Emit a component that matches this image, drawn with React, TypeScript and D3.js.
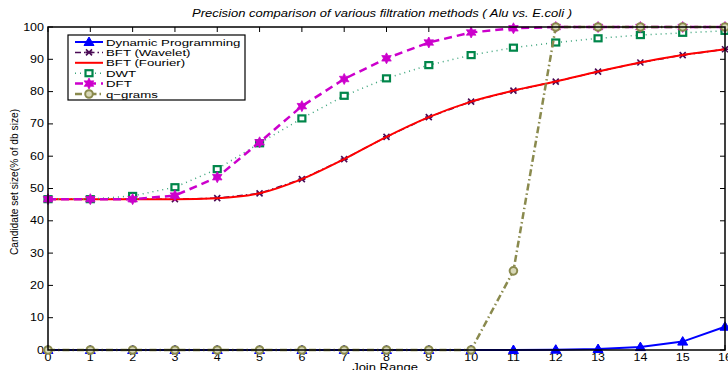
import * as d3 from 'd3'

const joinRange = d3.range(0, 17)
const dynamicProg = [0, 0, 0, 0, 0, 0, 0, 0, 0, 0, 0, 0, 0.1, 0.3, 0.9, 2.6, 7.2]
const bftWavelet = [46.7, 46.7, 46.7, 46.7, 47, 48.5, 52.9, 59.1, 66, 72.1, 76.9, 80.3, 83.1, 86.2, 89, 91.3, 93.1]
const bftFourier = [46.7, 46.7, 46.7, 46.7, 47, 48.5, 52.9, 59.1, 66, 72.1, 76.9, 80.3, 83.1, 86.2, 89, 91.3, 93.1]
const dwt = [46.7, 46.7, 47.7, 50.4, 56, 64, 71.7, 78.7, 84.1, 88.2, 91.3, 93.6, 95.2, 96.5, 97.5, 98.2, 98.8]
const dft = [46.7, 46.7, 46.7, 47.8, 53.5, 64.3, 75.5, 83.9, 90.3, 95.2, 98.3, 99.6, 100, 100, 100, 100, 100]
const qgrams = [0, 0, 0, 0, 0, 0, 0, 0, 0, 0, 0, 24.5, 100, 100, 100, 100, 100]
const yTicks = d3.range(0, 101, 10)

const W = 728
const H = 370
const left = 48
const right = 725
const top = 27
const bottom = 350
const SX = 1.25 // source image is stretched horizontally

const x = d3.scaleLinear().domain([0, 16]).range([left, right])
const y = d3.scaleLinear().domain([0, 100]).range([bottom, top])

type Marker = 'triangle' | 'asterisk' | 'none' | 'square' | 'hexagram' | 'circle'

interface Series {
  name: string
  values: number[]
  color: string
  lineColor: string
  width: number
  dash: string
  marker: Marker
  curve?: boolean
}

const series: Series[] = [
  { name: 'Dynamic Programming', values: dynamicProg, color: '#0000ff', lineColor: '#0000ff', width: 2, dash: '', marker: 'triangle' },
  { name: 'BFT (Wavelet)', values: bftWavelet, color: '#4a0a55', lineColor: '#4a0a55', width: 1.5, dash: '6,3,1.5,3', marker: 'asterisk' },
  { name: 'BFT (Fourier)', values: bftFourier, color: '#ff0000', lineColor: '#ff0000', width: 2, dash: '', marker: 'none', curve: true },
  { name: 'DWT', values: dwt, color: '#00864a', lineColor: '#3aa37a', width: 1.5, dash: '1,4', marker: 'square' },
  { name: 'DFT', values: dft, color: '#cc00cc', lineColor: '#cc00cc', width: 2.5, dash: '8,5', marker: 'hexagram' },
  { name: 'q\u2212grams', values: qgrams, color: '#8a8a4e', lineColor: '#8a8a4e', width: 2.5, dash: '7,3,1.5,3', marker: 'circle' },
]

const hexagram = (() => {
  const pts: string[] = []
  for (let i = 0; i < 12; i++) {
    const r = i % 2 === 0 ? 5.5 : 3
    const a = (Math.PI / 6) * i - Math.PI / 2
    pts.push(`${(r * Math.cos(a)).toFixed(2)},${(r * Math.sin(a)).toFixed(2)}`)
  }
  return 'M' + pts.join('L') + 'Z'
})()

function MarkerShape({ kind, cx, cy, color }: { kind: Marker; cx: number; cy: number; color: string }) {
  const t = `translate(${cx},${cy})`
  switch (kind) {
    case 'triangle':
      return <path transform={t} d="M0,-5L5,3.5L-5,3.5Z" fill={color} stroke={color} strokeWidth={1} />
    case 'asterisk':
      return (
        <path transform={t} d="M-3,-3L3,3M-3,3L3,-3M-3.5,0L3.5,0" stroke={color} strokeWidth={1.6} fill="none" />
      )
    case 'square':
      return <rect transform={t} x={-3.5} y={-3} width={7} height={6} fill="#fff" stroke={color} strokeWidth={2.2} />
    case 'hexagram':
      return <path transform={t} d={hexagram} fill={color} stroke={color} strokeWidth={0.8} />
    case 'circle':
      return <circle cx={cx} cy={cy} r={3.8} fill="#d8d8b8" stroke={color} strokeWidth={2} />
    default:
      return null
  }
}

function SText({ x: tx, y: ty, anchor = 'middle', size = 10, sx = SX, italic = false, children }: {
  x: number; y: number; anchor?: string; size?: number; sx?: number; italic?: boolean; children: React.ReactNode
}) {
  return (
    <text
      transform={`translate(${tx},${ty}) scale(${sx},1)`}
      textAnchor={anchor}
      fontSize={size}
      fontStyle={italic ? 'italic' : 'normal'}
      fill="#000"
    >
      {children}
    </text>
  )
}

export default function App() {
  const line = (s: Series) =>
    d3.line<number>()
      .x((_, i) => x(joinRange[i]))
      .y(d => y(d))
      .curve(s.curve ? d3.curveMonotoneX : d3.curveLinear)(s.values) ?? ''

  const legendX = 68
  const legendY = 35
  const legendRow = 10.4

  return (
    <div style={{ position: 'fixed', left: 0, top: 0 }}>
      <svg width={W} height={H} fontFamily="'Liberation Sans', Arial, sans-serif" style={{ display: 'block', background: '#fff' }}>
        <SText x={382} y={17} italic size={10.4}>
          Precision comparison of various filtration methods ( Alu vs. E.coli )
        </SText>

        {/* ticks */}
        {yTicks.map(t => (
          <g key={'y' + t}>
            <line x1={left} x2={left + 5} y1={y(t)} y2={y(t)} stroke="#000" />
            <line x1={right} x2={right - 5} y1={y(t)} y2={y(t)} stroke="#000" />
            <SText x={left - 4} y={y(t) + 3.5} anchor="end">{t}</SText>
          </g>
        ))}
        {joinRange.map(t => (
          <g key={'x' + t}>
            <line x1={x(t)} x2={x(t)} y1={bottom} y2={bottom - 5} stroke="#000" />
            <line x1={x(t)} x2={x(t)} y1={top} y2={top + 5} stroke="#000" />
            <SText x={x(t)} y={bottom + 11}>{t}</SText>
          </g>
        ))}

        {/* series */}
        {series.map(s => (
          <g key={s.name}>
            <path
              d={line(s)}
              fill="none"
              stroke={s.lineColor}
              strokeWidth={s.width}
              strokeDasharray={s.dash || undefined}
            />
            {s.values.map((v, i) => (
              <MarkerShape key={i} kind={s.marker} cx={x(joinRange[i])} cy={y(v)} color={s.color} />
            ))}
          </g>
        ))}

        {/* box */}
        <rect x={left} y={top} width={right - left} height={bottom - top} fill="none" stroke="#000" strokeWidth={1.5} />

        {/* legend */}
        <rect x={legendX} y={legendY} width={177} height={65} fill="#fff" stroke="#000" strokeWidth={1.2} />
        {series.map((s, i) => {
          const ly = legendY + 7 + i * legendRow
          return (
            <g key={'lg' + s.name}>
              <line
                x1={75}
                x2={103}
                y1={ly}
                y2={ly}
                stroke={s.lineColor}
                strokeWidth={s.width}
                strokeDasharray={s.dash || undefined}
              />
              <MarkerShape kind={s.marker} cx={89} cy={ly} color={s.color} />
              <SText x={106} y={ly + 3.6} anchor="start" size={9.6} sx={1.38}>{s.name}</SText>
            </g>
          )
        })}

        <SText x={385} y={371} size={10.4}>Join Range</SText>
        <text transform={`translate(18,${182}) rotate(-90)`} textAnchor="middle" fontSize={10.2} fill="#000">
          Candidate set size(% of db size)
        </text>
      </svg>
    </div>
  )
}
